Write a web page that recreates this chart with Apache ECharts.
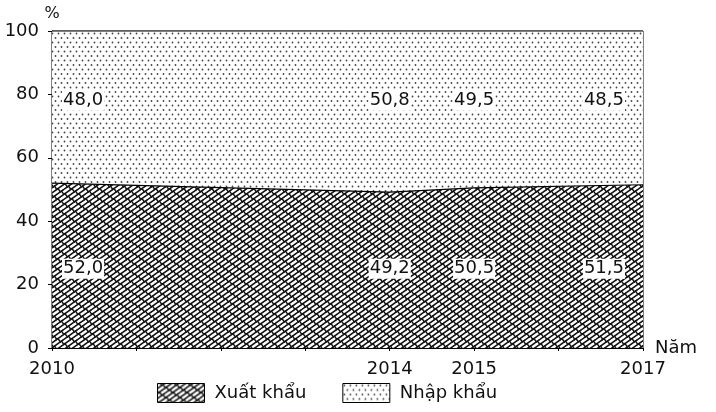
<!DOCTYPE html>
<html lang="vi">
<head>
<meta charset="utf-8">
<title>Xuất khẩu - Nhập khẩu</title>
<script src="https://cdn.jsdelivr.net/npm/echarts@6/dist/echarts.min.js"></script>
<style>
  html, body { margin: 0; padding: 0; background: #fff; }
  #chart { width: 716px; height: 412px; }
</style>
</head>
<body>
<div id="chart"></div>
<script>
// số liệu (%)
var years = [2010, 2014, 2015, 2017];
var xuatKhau = [52.0, 49.2, 50.5, 51.5];
var nhapKhau = [48.0, 50.8, 49.5, 48.5];
var yearLabels = [2010, 2014, 2015, 2017];

// vị trí chữ số liệu theo trục tung (chỉ là bố cục)
var LABEL_Y_TOP = 78;
var LABEL_Y_BOTTOM = 25;

// hoa văn gạch chéo (viên gạch) cho Xuất khẩu
function hatchPattern() {
    var W = 14, H = 10, k = H / W;
    var c = document.createElement('canvas');
    c.width = W; c.height = H;
    var g = c.getContext('2d');
    g.fillStyle = '#fff';
    g.fillRect(0, 0, W, H);
    g.strokeStyle = '#111';
    g.lineWidth = 1.5;
    g.lineCap = 'round';
    // đường thứ n: y = H - k * (x - n * W / 2)
    function lineY(n, x) { return H - k * (x - n * W / 2); }
    // vạch ngắn hướng "\" từ đường n sang đường n+1
    function cross(n, x0, ox, oy) {
        var y0 = lineY(n, x0);
        var dx = 0.7, dy = 1;
        var t = (lineY(n + 1, x0) - y0) / (dy + k * dx);
        g.beginPath();
        g.moveTo(ox + x0, oy + y0);
        g.lineTo(ox + x0 + t * dx, oy + y0 + t * dy);
        g.stroke();
    }
    for (var ox = -W; ox <= W; ox += W) {
        for (var oy = -H; oy <= H; oy += H) {
            [0, 1].forEach(function (n) {
                g.beginPath();
                g.moveTo(ox + n * W / 2, oy + H);
                g.lineTo(ox + n * W / 2 + W, oy);
                g.stroke();
            });
            cross(0, 2, ox, oy);
            cross(0, 9, ox, oy);
            cross(1, 12.5, ox, oy);
            cross(1, 19.5, ox, oy);
        }
    }
    return { image: c, repeat: 'repeat' };
}

// hoa văn chấm cho Nhập khẩu
function dotPattern() {
    var W = 6, H = 9;
    var c = document.createElement('canvas');
    c.width = W; c.height = H;
    var g = c.getContext('2d');
    g.fillStyle = '#fff';
    g.fillRect(0, 0, W, H);
    g.fillStyle = '#444';
    [[1.5, 2], [4.5, 6.5]].forEach(function (p) {
        g.beginPath();
        g.arc(p[0], p[1], 0.9, 0, Math.PI * 2);
        g.fill();
    });
    return { image: c, repeat: 'repeat' };
}

var hatch = hatchPattern();
var dots = dotPattern();
var FONT = 'DejaVu Sans';

function fmt(v) { return v.toFixed(1).replace('.', ','); }

function labelPos(i) {
    if (i === 0) return { position: 'right', distance: 10 };
    if (i === years.length - 1) return { position: 'left', distance: 18 };
    return { position: 'inside' };
}

function labelData(vals, y) {
    return years.map(function (yr, i) {
        var p = labelPos(i);
        return {
            value: [yr, y],
            label: {
                show: true,
                position: p.position,
                distance: p.distance,
                formatter: fmt(vals[i])
            }
        };
    });
}

// cột 0 là giá trị (%), cột 1 là năm: để ECharts cộng dồn theo trục tung
function areaData(vals) {
    return years.map(function (y, i) { return [vals[i], y]; });
}

var labelStyle = {
    fontFamily: FONT,
    fontSize: 18,
    color: '#111',
    backgroundColor: '#fff',
    padding: [1, 1]
};

var myChart = echarts.init(document.getElementById('chart'));
myChart.setOption({
    animation: false,
    textStyle: { fontFamily: FONT },
    grid: {
        left: 52, right: 73, top: 31, bottom: 64,
        show: true, borderColor: '#000', borderWidth: 1
    },
    legend: {
        left: 157, top: 383,
        padding: 0,
        icon: 'rect',
        itemWidth: 47, itemHeight: 19, itemGap: 36,
        textStyle: { fontFamily: FONT, fontSize: 18, color: '#111', padding: [0, 0, 0, 5] },
        data: [
            { name: 'Xuất khẩu', itemStyle: { color: hatch, borderColor: '#000', borderWidth: 1 } },
            { name: 'Nhập khẩu', itemStyle: { color: dots, borderColor: '#000', borderWidth: 1 } }
        ]
    },
    xAxis: {
        type: 'value',
        min: 2010, max: 2017, interval: 1,
        name: 'Năm', nameLocation: 'end', nameGap: 12,
        nameTextStyle: { fontFamily: FONT, fontSize: 18, color: '#111', verticalAlign: 'middle' },
        axisLine: { lineStyle: { color: '#000', width: 1 } },
        axisTick: { length: 3, lineStyle: { color: '#000' } },
        splitLine: { show: false },
        axisLabel: {
            margin: 12, fontSize: 18, color: '#111', fontFamily: FONT,
            formatter: function (v) { return yearLabels.indexOf(v) >= 0 ? String(v) : ''; }
        }
    },
    yAxis: {
        type: 'value',
        min: 0, max: 100, interval: 20,
        name: '%', nameLocation: 'end', nameGap: 8,
        nameTextStyle: { fontFamily: FONT, fontSize: 16, color: '#111', align: 'center' },
        axisLine: { show: true, lineStyle: { color: '#000', width: 1 } },
        axisTick: { show: true, length: 4, lineStyle: { color: '#000' } },
        splitLine: { show: false },
        axisLabel: { margin: 13, fontSize: 18, color: '#111', fontFamily: FONT }
    },
    series: [
        {
            name: 'Xuất khẩu',
            type: 'line',
            stack: 'tong',
            symbol: 'none',
            encode: { x: 1, y: 0 },
            lineStyle: { color: '#000', width: 1.2 },
            itemStyle: { color: hatch },
            areaStyle: { color: hatch, opacity: 1 },
            data: areaData(xuatKhau)
        },
        {
            name: 'Nhập khẩu',
            type: 'line',
            stack: 'tong',
            symbol: 'none',
            encode: { x: 1, y: 0 },
            lineStyle: { color: '#000', width: 1.2 },
            itemStyle: { color: dots },
            areaStyle: { color: dots, opacity: 1 },
            data: areaData(nhapKhau)
        },
        {
            name: 'nhanNK',
            type: 'scatter',
            symbolSize: 0,
            silent: true,
            z: 5,
            itemStyle: { opacity: 1 },
            label: labelStyle,
            data: labelData(nhapKhau, LABEL_Y_TOP)
        },
        {
            name: 'nhanXK',
            type: 'scatter',
            symbolSize: 0,
            silent: true,
            z: 5,
            itemStyle: { opacity: 1 },
            label: labelStyle,
            data: labelData(xuatKhau, LABEL_Y_BOTTOM)
        }
    ]
});
</script>
</body>
</html>
